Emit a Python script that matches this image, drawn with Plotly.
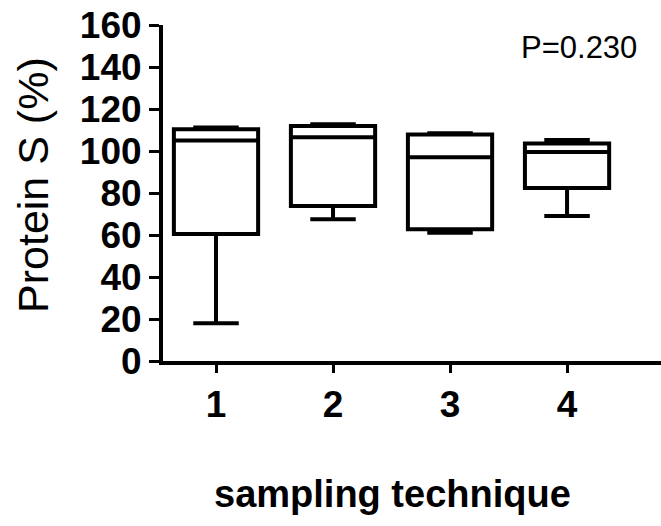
import plotly.graph_objects as go

categories = [1, 2, 3, 4]
q1 = [60.5, 73.8, 62.7, 82.4]
median = [105.0, 106.5, 97.0, 99.5]
q3 = [110.3, 111.9, 107.8, 103.6]
lowerfence = [18.0, 67.5, 61.1, 69.0]
upperfence = [111.2, 112.7, 108.4, 105.2]
y_ticks = [0, 20, 40, 60, 80, 100, 120, 140, 160]
p_text = "P=0.230"

FONT = "Liberation Sans, Arial, sans-serif"

fig = go.Figure()
fig.add_trace(go.Box(
    x=categories, q1=q1, median=median, q3=q3,
    lowerfence=lowerfence, upperfence=upperfence,
    width=0.72, whiskerwidth=0.54,
    fillcolor="white",
    line=dict(color="black", width=4),
    boxpoints=False, showlegend=False, hoverinfo="skip",
))

fig.update_layout(
    width=661, height=526,
    margin=dict(l=163, r=0, t=25, b=165, autoexpand=False),
    paper_bgcolor="white", plot_bgcolor="white",
    font=dict(family=FONT, color="black"),
    xaxis=dict(
        range=[0.547, 4.803], tickvals=categories, ticktext=[str(c) for c in categories],
        automargin=False, ticklabeloverflow="allow",
        showgrid=False, zeroline=False, showline=True, linecolor="black", linewidth=4,
        ticks="outside", ticklen=8, tickwidth=3, tickcolor="black",
        tickfont=dict(size=37, family=FONT, weight="bold", color="black"),
    ),
    yaxis=dict(
        range=[0, 160], tickvals=y_ticks, automargin=False, ticklabeloverflow="allow",
        showgrid=False, zeroline=False, showline=True, linecolor="black", linewidth=4,
        ticks="outside", ticklen=10, tickwidth=3, tickcolor="black",
        tickfont=dict(size=37, family=FONT, weight="bold", color="black"),
    ),
    annotations=[
        dict(text=p_text, xref="paper", yref="paper", x=0.835, y=0.9345,
             xanchor="center", yanchor="middle", showarrow=False,
             font=dict(size=31, family=FONT, color="black")),
        dict(text="Protein S (%)", xref="paper", yref="paper", x=-0.261, y=0.524,
             xanchor="center", yanchor="middle", textangle=-90, showarrow=False,
             font=dict(size=43, family=FONT, color="black")),
        dict(text="sampling technique", xref="paper", yref="paper", x=0.46, y=-0.396,
             xanchor="center", yanchor="middle", showarrow=False,
             font=dict(size=38, family=FONT, weight="bold", color="black")),
    ],
)

# remove the page's default body margin so the figure sits at the window's corner
fig.write_html("out.html", config={"displayModeBar": False},
               post_script="document.body.style.margin='0';")
